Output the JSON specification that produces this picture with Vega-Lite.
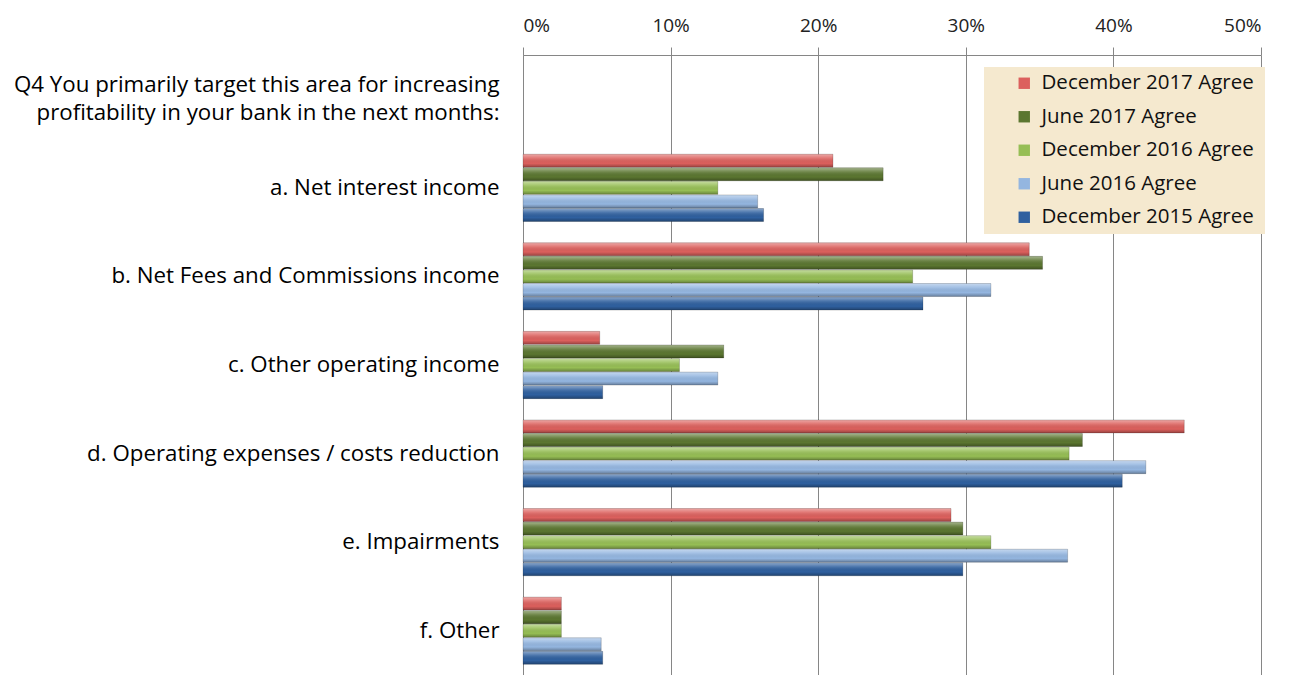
{
  "$schema": "https://vega.github.io/schema/vega-lite/v6.json",
  "width": 738,
  "height": 620,
  "autosize": {"type": "none"},
  "padding": {"left": 523, "top": 55, "right": 36, "bottom": 0},
  "background": "white",
  "config": {
    "view": {"stroke": null},
    "font": "Open Sans"
  },
  "data": {
    "values": [
      {"cat": "a. Net interest income", "series": "December 2017 Agree", "value": 0.210},
      {"cat": "a. Net interest income", "series": "June 2017 Agree", "value": 0.244},
      {"cat": "a. Net interest income", "series": "December 2016  Agree", "value": 0.132},
      {"cat": "a. Net interest income", "series": "June 2016  Agree", "value": 0.159},
      {"cat": "a. Net interest income", "series": "December 2015  Agree", "value": 0.163},
      {"cat": "b. Net Fees and Commissions income", "series": "December 2017 Agree", "value": 0.343},
      {"cat": "b. Net Fees and Commissions income", "series": "June 2017 Agree", "value": 0.352},
      {"cat": "b. Net Fees and Commissions income", "series": "December 2016  Agree", "value": 0.264},
      {"cat": "b. Net Fees and Commissions income", "series": "June 2016  Agree", "value": 0.317},
      {"cat": "b. Net Fees and Commissions income", "series": "December 2015  Agree", "value": 0.271},
      {"cat": "c. Other operating income", "series": "December 2017 Agree", "value": 0.052},
      {"cat": "c. Other operating income", "series": "June 2017 Agree", "value": 0.136},
      {"cat": "c. Other operating income", "series": "December 2016  Agree", "value": 0.106},
      {"cat": "c. Other operating income", "series": "June 2016  Agree", "value": 0.132},
      {"cat": "c. Other operating income", "series": "December 2015  Agree", "value": 0.054},
      {"cat": "d. Operating expenses / costs reduction", "series": "December 2017 Agree", "value": 0.448},
      {"cat": "d. Operating expenses / costs reduction", "series": "June 2017 Agree", "value": 0.379},
      {"cat": "d. Operating expenses / costs reduction", "series": "December 2016  Agree", "value": 0.370},
      {"cat": "d. Operating expenses / costs reduction", "series": "June 2016  Agree", "value": 0.422},
      {"cat": "d. Operating expenses / costs reduction", "series": "December 2015  Agree", "value": 0.406},
      {"cat": "e. Impairments", "series": "December 2017 Agree", "value": 0.290},
      {"cat": "e. Impairments", "series": "June 2017 Agree", "value": 0.298},
      {"cat": "e. Impairments", "series": "December 2016  Agree", "value": 0.317},
      {"cat": "e. Impairments", "series": "June 2016  Agree", "value": 0.369},
      {"cat": "e. Impairments", "series": "December 2015  Agree", "value": 0.298},
      {"cat": "f. Other", "series": "December 2017 Agree", "value": 0.026},
      {"cat": "f. Other", "series": "June 2017 Agree", "value": 0.026},
      {"cat": "f. Other", "series": "December 2016  Agree", "value": 0.026},
      {"cat": "f. Other", "series": "June 2016  Agree", "value": 0.053},
      {"cat": "f. Other", "series": "December 2015  Agree", "value": 0.054}
    ]
  },
  "encoding": {
    "y": {
      "field": "cat",
      "type": "nominal",
      "scale": {
        "domain": [
          "Q4 You primarily target this area for increasing|profitability in your bank in the next months:",
          "a. Net interest income",
          "b. Net Fees and Commissions income",
          "c. Other operating income",
          "d. Operating expenses / costs reduction",
          "e. Impairments",
          "f. Other"
        ],
        "paddingInner": 0.24,
        "paddingOuter": 0.12
      },
      "axis": {
        "title": null,
        "orient": "left",
        "ticks": false,
        "domain": true,
        "domainColor": "#868686",
        "domainWidth": 1,
        "labelFontSize": 22.3,
        "labelColor": "#000000",
        "labelPadding": 24,
        "labelLimit": 600,
        "labelLineHeight": 28,
        "labelOffset": {"condition": {"test": "indexof(datum.value, 'Q4') == 0", "value": -14}, "value": 0},
        "labelExpr": "split(datum.label, '|')"
      }
    },
    "yOffset": {
      "field": "series",
      "type": "nominal",
      "scale": {
        "domain": ["December 2017 Agree", "June 2017 Agree", "December 2016  Agree", "June 2016  Agree", "December 2015  Agree"],
        "paddingInner": 0.04
      }
    },
    "x": {
      "field": "value",
      "type": "quantitative",
      "scale": {"domain": [0, 0.5], "nice": false},
      "axis": {
        "title": null,
        "orient": "top",
        "format": "%",
        "values": [0, 0.1, 0.2, 0.3, 0.4, 0.5],
        "grid": true,
        "gridColor": "#868686",
        "gridWidth": 1,
        "domain": true,
        "domainColor": "#868686",
        "tickColor": "#868686",
        "tickSize": 8,
        "labelFontSize": 19,
        "labelColor": "#222222",
        "labelPadding": 12
      }
    }
  },
  "layer": [
    {
      "mark": {"type": "bar", "cornerRadius": 0},
      "encoding": {
        "color": {
          "field": "series",
          "type": "nominal",
          "scale": {
            "domain": ["December 2017 Agree", "June 2017 Agree", "December 2016  Agree", "June 2016  Agree", "December 2015  Agree"],
            "range": ["#DC605D", "#5B7630", "#96BE55", "#94B6E0", "#2F609F"]
          },
          "legend": {
            "title": null,
            "orient": "none",
            "legendX": 461,
            "legendY": 12,
            "fillColor": "#F5E9CF",
            "padding": 6,
            "symbolType": "square",
            "symbolSize": 130,
            "symbolStrokeWidth": 0,
            "symbolOffset": 24,
            "labelOffset": 7,
            "labelFontSize": 20.5,
            "labelColor": "#111111",
            "rowPadding": 12.5,
            "labelLimit": 400
          }
        }
      }
    },
    {
      "mark": {
        "type": "bar",
        "fill": {
          "gradient": "linear",
          "x1": 0, "y1": 0, "x2": 0, "y2": 1,
          "stops": [
            {"offset": 0, "color": "rgba(255,255,255,0.45)"},
            {"offset": 0.3, "color": "rgba(255,255,255,0.15)"},
            {"offset": 0.7, "color": "rgba(0,0,0,0.0)"},
            {"offset": 1, "color": "rgba(0,0,0,0.3)"}
          ]
        },
        "stroke": "rgba(0,0,0,0.25)",
        "strokeWidth": 0.7
      }
    }
  ]
}
